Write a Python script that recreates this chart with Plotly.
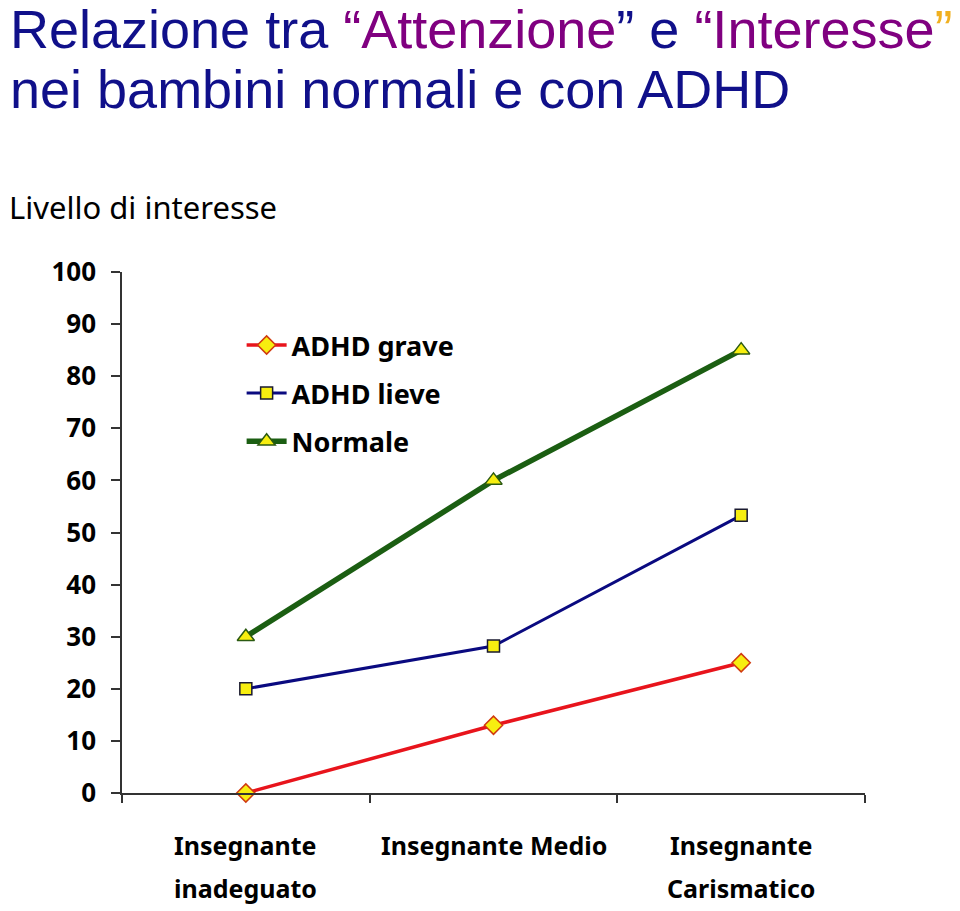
import plotly.graph_objects as go

categories = ["Insegnante<br>inadeguato", "Insegnante Medio", "Insegnante<br>Carismatico"]
adhd_grave = [0, 13, 25]
adhd_lieve = [20, 28.2, 53.3]
normale = [30, 60, 85]
y_ticks = [0, 10, 20, 30, 40, 50, 60, 70, 80, 90, 100]

FONT = "Noto Sans"
YEL = "#f7ee10"
NAVY = "#10108a"
PURPLE = "#800080"

fig = go.Figure()
fig.add_trace(go.Scatter(
    x=categories, y=adhd_grave, name="ADHD grave", mode="lines+markers",
    line=dict(color="#e8141c", width=3.5), legendgroup="a",
    marker=dict(symbol="diamond", size=14, color=YEL, line=dict(color="#d03a10", width=1.5)),
    cliponaxis=False))
fig.add_trace(go.Scatter(
    x=categories, y=adhd_lieve, name="ADHD lieve", mode="lines+markers",
    line=dict(color="#0a0a80", width=3), legendgroup="b",
    marker=dict(symbol="square", size=12, color=YEL, line=dict(color="#1a1a30", width=1.5)),
    cliponaxis=False))
fig.add_trace(go.Scatter(
    x=categories, y=normale, name="Normale", mode="lines+markers",
    line=dict(color="#1b5e12", width=5.5), legendgroup="c",
    marker=dict(symbol="triangle-up", size=15, color=YEL, line=dict(color="#2b5a12", width=1.5)),
    cliponaxis=False))

title1 = (f"<span style='color:{NAVY}'>Relazione tra </span>"
          f"<span style='color:{PURPLE}'>“Attenzione</span>"
          f"<span style='color:{NAVY}'>” e </span>"
          f"<span style='color:{PURPLE}'>“Interesse</span>"
          "<span style='color:#f0b020'>”</span>")
title2 = "nei bambini normali e con ADHD"

fig.add_annotation(text=title1, xref="paper", yref="paper", x=-0.1534, y=1.466,
                   xanchor="left", yanchor="middle", showarrow=False, align="left",
                   font=dict(family="Liberation Sans", size=54, color=NAVY))
fig.add_annotation(text=title2, xref="paper", yref="paper", x=-0.1534, y=1.352,
                   xanchor="left", yanchor="middle", showarrow=False, align="left",
                   font=dict(family="Liberation Sans", size=54, color=NAVY))
fig.add_annotation(text="Livello di interesse", xref="paper", yref="paper",
                   x=-0.155, y=1.125, xanchor="left", yanchor="middle", showarrow=False,
                   font=dict(family=FONT, size=31, color="black"))

# category labels, one annotation per text line
line_y = [-0.0998, -0.1823]
for cat in categories:
    for i, part in enumerate(cat.split("<br>")):
        fig.add_annotation(text=part, x=cat, xref="x", yref="paper", y=line_y[i],
                           xanchor="center", yanchor="middle", showarrow=False,
                           font=dict(family=FONT, size=25, color="black", weight="bold"))

fig.update_layout(
    width=960, height=911,
    margin=dict(l=114, r=103, t=264, b=126),
    paper_bgcolor="white", plot_bgcolor="white",
    showlegend=True,
    legend=dict(x=0.161, y=0.906, xanchor="left", yanchor="top",
                font=dict(family=FONT, size=27, color="black", weight="bold"),
                tracegroupgap=10, traceorder="grouped", itemwidth=40,
                bgcolor="rgba(0,0,0,0)"),
    xaxis=dict(type="category", tickson="boundaries", showline=True, linecolor="#333",
               linewidth=1.5, ticks="outside", ticklen=8, tickcolor="#333", tickwidth=1.5,
               showgrid=False, zeroline=False, showticklabels=False,
               range=[-0.5, 2.5]),
    yaxis=dict(range=[0, 100], tickvals=y_ticks, showline=True, linecolor="#333",
               linewidth=1.5, ticks="outside", ticklen=9, tickcolor="#333", tickwidth=1.5,
               showgrid=False, zeroline=False, ticklabelstandoff=10,
               tickfont=dict(family=FONT, size=26, color="black", weight="bold")),
)

fig.write_html("out.html")
